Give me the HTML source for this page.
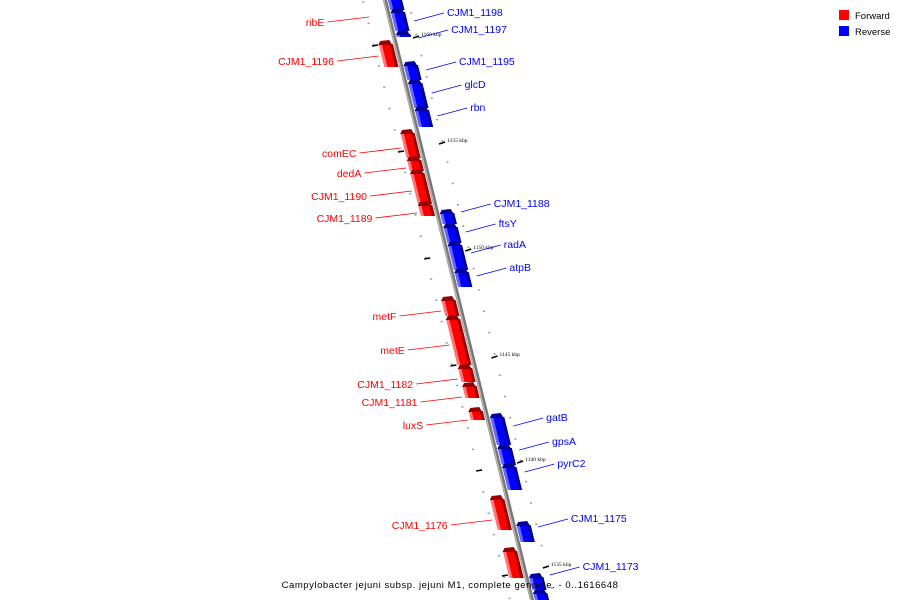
<!DOCTYPE html>
<html><head><meta charset="utf-8"><style>
html,body{margin:0;background:#fff;width:900px;height:600px;overflow:hidden;}
svg{display:block;font-family:"Liberation Sans","DejaVu Sans",sans-serif;overflow:hidden;}
</style></head><body>
<svg id="map" width="900" height="600">
<g id="ticks"></g>
<line id="backbone" stroke="#777" stroke-width="4"/>
<line id="backbone2" stroke="#bbb" stroke-width="1.2"/>
<g id="genes"></g>
<g id="labels"></g>
<g>
<rect x="839" y="10" width="10" height="10" fill="#f00"/>
<text x="855" y="19" font-size="9.5" fill="#000">Forward</text>
<rect x="839" y="26" width="10" height="10" fill="#00f"/>
<text x="855" y="35" font-size="9.5" fill="#000">Reverse</text>
</g>
<text x="450" y="588" font-size="9.5" text-anchor="middle" letter-spacing="0.55" fill="#000">Campylobacter jejuni subsp. jejuni M1, complete genome. - 0..1616648</text>
</svg>
<script>
const geneNames = ["","CJM1_1198","CJM1_1197","CJM1_1195","glcD","rbn","CJM1_1188","ftsY","radA","atpB","gatB","gpsA","pyrC2","CJM1_1175","CJM1_1173","","ribE","CJM1_1196","comEC","dedA","CJM1_1190","CJM1_1189","metF","metE","CJM1_1182","CJM1_1181","luxS","CJM1_1176",""];
const geneStrand = ["-","-","-","-","-","-","-","-","-","-","-","-","-","-","-","-","+","+","+","+","+","+","+","+","+","+","+","+","+"];
const geneStart = [-8,10,32,63,81,108,211,225,243,270,415,446,465,523,575,591,-30,42,131,158,171,203,298,317,366,384,409,497,549];
const geneEnd = [10,31,37,80,108,127,224,243,270,287,445,465,490,542,590,610,-5,67,158,171,204,216,316,365,382,398,420,530,578];
const labelY = [0,12,29,61,84,107,203,223,244,267,417,441,463,518,566,0,22,61,153,173,196,218,316,350,384,402,425,525,0];
const kbpLabels = ["1160 kbp","1155 kbp","1150 kbp","1145 kbp","1140 kbp","1135 kbp"];
const kbpY = [37,143,250,357,462,567];

const NS="http://www.w3.org/2000/svg";
function L(y){return 385+0.245*y;}
function mk(tag,attrs,parent){const e=document.createElementNS(NS,tag);for(const k in attrs)e.setAttribute(k,attrs[k]);parent.appendChild(e);return e;}
const bb=document.getElementById('backbone');
bb.setAttribute('x1',L(-10));bb.setAttribute('y1',-10);bb.setAttribute('x2',L(610));bb.setAttribute('y2',610);
const bb2=document.getElementById('backbone2');
bb2.setAttribute('x1',L(-10)-1);bb2.setAttribute('y1',-10);bb2.setAttribute('x2',L(610)-1);bb2.setAttribute('y2',610);

const tg=document.getElementById('ticks');
for(let y=-20;y<600;y+=21.3){
  const a=mk('rect',{x:L(y)-23,y:y,width:2,height:1.5,fill:'#999'},tg);
  
  
  const b=mk('rect',{x:L(y+11)+22,y:y+11,width:2,height:1.5,fill:'#999'},tg);
  
  
}
kbpY.forEach((y,i)=>{
  const d=mk('line',{x1:L(y)+19,y1:y+1,x2:L(y)+25,y2:y-1,stroke:'#000','stroke-width':1.5},tg);
  
  
  const d2=mk('line',{x1:L(y+8)-24,y1:y+9,x2:L(y+8)-18,y2:y+8,stroke:'#000','stroke-width':1.5},tg);
  
  
  const t=mk('text',{x:L(y)+27,y:y-1,'font-size':5.5,fill:'#000','font-family':'Liberation Serif, serif'},tg);
  t.textContent=kbpLabels[i];
  
  
});

const gg=document.getElementById('genes'), lg=document.getElementById('labels');
geneStart.forEach((s,i)=>{
  const e=geneEnd[i], fwd=geneStrand[i]==='+';
  const col=fwd?'#f00':'#00f', dark=fwd?'#900':'#009', light=fwd?'#f77':'#66f';
  const a=fwd?-17:3, b=fwd?-3:17;
  const g=mk('g',{},gg);
  
  
  const pts=(p,q,y1,y2)=>`${L(y1)+p},${y1} ${L(y1)+q},${y1} ${L(y2)+q},${y2} ${L(y2)+p},${y2}`;
  mk('polygon',{points:pts(a,b,s+2,e),fill:col},g);
  mk('polygon',{points:pts(a,a+3,s+2,e),fill:light},g);
  mk('polygon',{points:pts(b-3,b,s+2,e),fill:dark},g);
  mk('polygon',{points:`${L(s)+a+2},${s-1} ${L(s)+b-3},${s-2} ${L(s)+b},${s+3} ${L(s)+a},${s+3}`,fill:dark},g);
  const nm=geneNames[i]; if(!nm) return;
  const ly=labelY[i];
  if(fwd){
    const tx=L(ly)-66;
    const ly2=ly-5;
    const ln=mk('line',{x1:tx+3,y1:ly,x2:L(ly2)-20,y2:ly2,stroke:'#f00','stroke-width':0.8},lg);
    
    
    const t=mk('text',{x:tx,y:ly+4,'font-size':10.5,fill:'#f00','text-anchor':'end'},lg);
    t.textContent=nm;
    
    
  } else {
    const tx=L(ly)+59;
    const ly2=ly+9;
    const ln=mk('line',{x1:tx-3,y1:ly+1,x2:L(ly2)+24,y2:ly2,stroke:'#00f','stroke-width':0.8},lg);
    
    
    const t=mk('text',{x:tx,y:ly+4,'font-size':10.5,fill:'#00f'},lg);
    t.textContent=nm;
    
    
  }
});
</script>
</body></html>
